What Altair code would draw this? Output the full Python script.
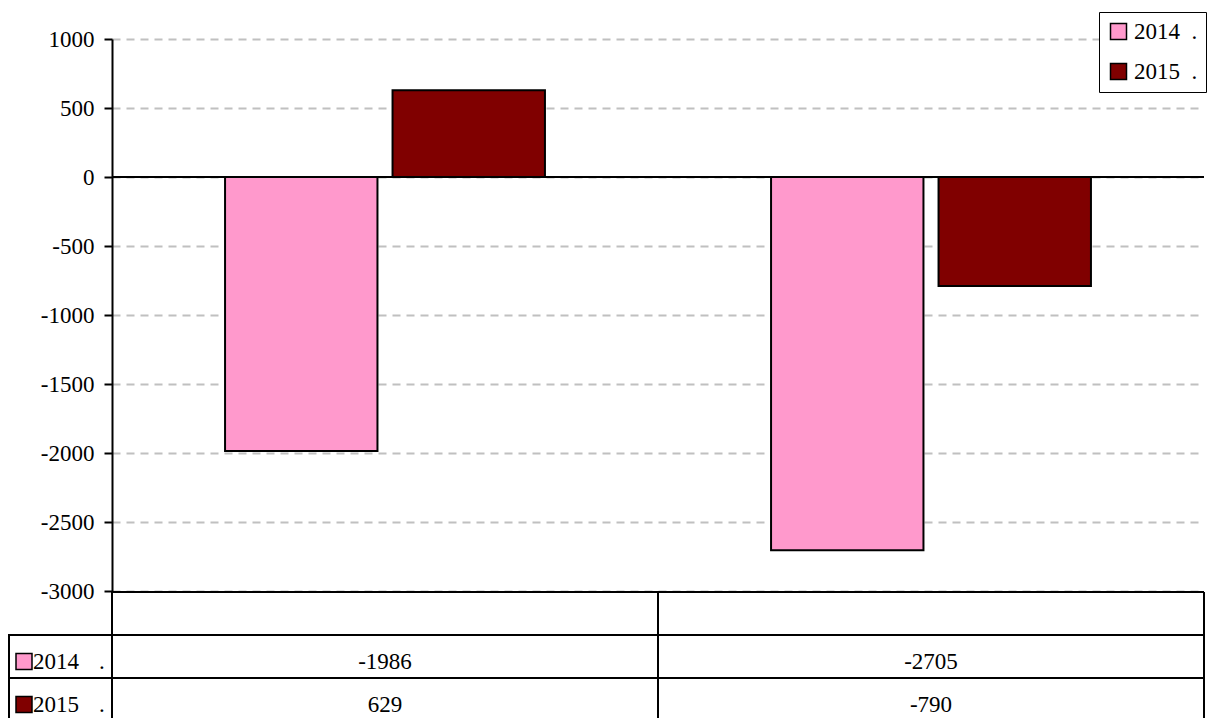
import altair as alt
import pandas as pd

# ---- data ----
categories = [" ", "  "]          # category labels are blank in the reference
series = ["2014", "2015"]
values_2014 = [-1986, -2705]
values_2015 = [629, -790]
y_ticks = [1000, 500, 0, -500, -1000, -1500, -2000, -2500, -3000]
colors = ["#FF99CC", "#800000"]
table_rows = ["header"] + series

rows = []
for i, c in enumerate(categories):
    rows.append({"category": c, "series": "2014", "value": values_2014[i]})
    rows.append({"category": c, "series": "2015", "value": values_2015[i]})
df = pd.DataFrame(rows)
df["label"] = df["value"].astype(str)

label_df = pd.DataFrame({"row": series, "label": series, "dot": ["."] * len(series)})
row_df = pd.DataFrame({"row": table_rows})
cat_df = pd.DataFrame({"category": categories})
zero_df = pd.DataFrame({"v": [0]})

FONT = "Liberation Serif"
FS = 23
W = 1092
H = 552

x_scale = alt.Scale(domain=categories, paddingInner=0, paddingOuter=0)
y_scale = alt.Scale(domain=[-3000, 1000], nice=False, zero=False)
t_scale = alt.Scale(domain=table_rows, range=[553, 682], paddingInner=0, paddingOuter=0)
c_scale = alt.Scale(domain=series, range=colors)

bars = alt.Chart(df).mark_bar(stroke="black", strokeWidth=2).encode(
    x=alt.X("category:N", scale=x_scale, axis=None, sort=categories),
    xOffset=alt.XOffset("series:N", scale=alt.Scale(domain=series, paddingInner=0.09, paddingOuter=0.675)),
    y=alt.Y("value:Q", scale=y_scale, title=None,
            axis=alt.Axis(values=y_ticks, labelExpr="'' + datum.value",
                          labelFont=FONT, labelFontSize=FS, labelColor="black",
                          labelPadding=10, tickSize=8, tickColor="black", tickWidth=2,
                          domainColor="black", domainWidth=2,
                          grid=True, gridColor="#C0C0C0", gridDash=[8, 6], gridWidth=2)),
    color=alt.Color("series:N", scale=c_scale,
                    legend=alt.Legend(title=None, orient="none", legendX=987, legendY=-27,
                                      direction="vertical", symbolType="square", symbolSize=256,
                                      symbolStrokeColor="black", symbolStrokeWidth=1.5,
                                      labelFont=FONT, labelFontSize=FS, labelColor="black",
                                      labelExpr="datum.label + '\u00a0\u00a0.'",
                                      rowPadding=16, padding=8, labelOffset=4,
                                      strokeColor="black", fillColor="white")),
)

zero_rule = alt.Chart(zero_df).mark_rule(color="black", strokeWidth=2).encode(
    y=alt.Y("v:Q", scale=y_scale)
)

main = alt.layer(bars, zero_rule)

# ---- data table below the plot ----
h_top = alt.Chart(row_df[row_df["row"] == "header"]).mark_rule(color="black", strokeWidth=2).encode(
    y=alt.Y("row:N", scale=t_scale, axis=None, bandPosition=0),
    x=alt.value(0), x2=alt.value(W),
)
h_rows = alt.Chart(row_df[row_df["row"] != "header"]).mark_rule(color="black", strokeWidth=2).encode(
    y=alt.Y("row:N", scale=t_scale, axis=None, bandPosition=0),
    x=alt.value(-104), x2=alt.value(W),
)
v_cats = alt.Chart(cat_df).mark_rule(color="black", strokeWidth=2).encode(
    x=alt.X("category:N", scale=x_scale, bandPosition=0),
    y=alt.value(552), y2=alt.value(730),
)
v_right = alt.Chart(zero_df).mark_rule(color="black", strokeWidth=2).encode(
    x=alt.value(W), y=alt.value(553), y2=alt.value(730),
)
v_left = alt.Chart(zero_df).mark_rule(color="black", strokeWidth=2).encode(
    x=alt.value(-103), y=alt.value(596), y2=alt.value(730),
)
value_text = alt.Chart(df).mark_text(font=FONT, fontSize=FS, color="black", dy=5).encode(
    x=alt.X("category:N", scale=x_scale),
    y=alt.Y("series:N", scale=t_scale, axis=None),
    text="label:N",
)
row_label = alt.Chart(label_df).mark_text(font=FONT, fontSize=FS, color="black", align="left", dy=5).encode(
    x=alt.value(-79),
    y=alt.Y("row:N", scale=t_scale, axis=None),
    text="label:N",
)
row_dot = alt.Chart(label_df).mark_text(font=FONT, fontSize=FS, color="black", align="left", dy=5).encode(
    x=alt.value(-13),
    y=alt.Y("row:N", scale=t_scale, axis=None),
    text="dot:N",
)
row_sq = alt.Chart(label_df).mark_point(shape="square", filled=True, opacity=1, size=256,
                                        stroke="black", strokeWidth=1.5, yOffset=5).encode(
    x=alt.value(-88),
    y=alt.Y("row:N", scale=t_scale, axis=None),
    color=alt.Color("row:N", scale=c_scale, legend=None),
)

table = alt.layer(h_top, h_rows, v_cats, v_right, v_left, value_text, row_label, row_dot, row_sq)

chart = alt.layer(main, table).resolve_scale(y="independent").properties(
    width=W, height=H,
    autosize=alt.AutoSizeParams(type="none"),
    padding={"left": 104, "top": 31, "right": 4, "bottom": 127},
    background="white",
).configure_view(strokeWidth=0)

chart.save("out.html", embed_options={"renderer": "svg", "actions": False})
